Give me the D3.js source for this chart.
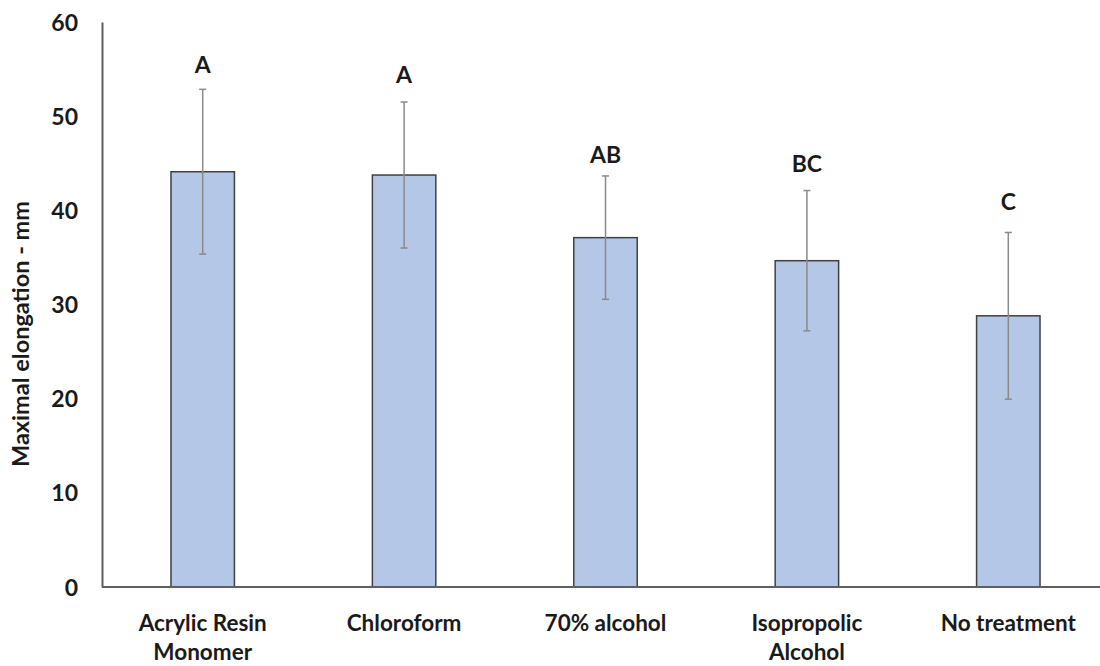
<!DOCTYPE html>
<html>
<head>
<meta charset="utf-8">
<script src="https://cdn.jsdelivr.net/npm/d3@7"></script>
<style>
  html, body { margin: 0; padding: 0; background: #fff; }
  svg { display: block; }
  text { font-family: Lato, "Open Sans", sans-serif; font-weight: bold; fill: #1a1a1a; }
</style>
</head>
<body>
<svg id="chart" width="1100" height="666"></svg>
<script>
const categories = [["Acrylic Resin", "Monomer"], ["Chloroform"], ["70% alcohol"], ["Isopropolic", "Alcohol"], ["No treatment"]];
const categoryKeys = ["Acrylic Resin Monomer", "Chloroform", "70% alcohol", "Isopropolic Alcohol", "No treatment"];
const means = [44.1, 43.75, 37.1, 34.65, 28.8];
const errors = [8.75, 7.75, 6.55, 7.45, 8.85];
const groupLetters = ["A", "A", "AB", "BC", "C"];
const letterLevels = [54.6, 53.5, 45.0, 44.1, 40.0];
const yTicks = [0, 10, 20, 30, 40, 50, 60];

const svg = d3.select("#chart");
const x = d3.scaleBand().domain(categoryKeys).range([102, 1109]).paddingInner(0.685).paddingOuter(0.3425);
const y = d3.scaleLinear().domain([0, 60]).range([587, 22]);

// y axis
const yAxis = d3.axisLeft(y).tickValues(yTicks).tickSize(0).tickPadding(24);
const gy = svg.append("g").attr("transform", "translate(102,0)").call(yAxis);
gy.select(".domain").attr("stroke", "#5f5f5f").attr("stroke-width", 2);
gy.selectAll("text").attr("font-size", 23).attr("font-family", "Lato, sans-serif").attr("font-weight", "bold").attr("fill", "#1a1a1a").attr("dy", "0.35em");

// bars
svg.append("g").selectAll("rect").data(means).join("rect")
  .attr("x", (d, i) => x(categoryKeys[i]))
  .attr("width", x.bandwidth())
  .attr("y", d => y(d))
  .attr("height", d => y(0) - y(d))
  .attr("fill", "#b4c7e7")
  .attr("stroke", "#404040")
  .attr("stroke-width", 1.5);

// x axis line
svg.append("line").attr("x1", 102).attr("x2", 1100).attr("y1", y(0)).attr("y2", y(0))
  .attr("stroke", "#5f5f5f").attr("stroke-width", 2);

// error bars
const eg = svg.append("g").attr("stroke", "#8a8a8a").attr("stroke-width", 1.5);
means.forEach((m, i) => {
  const cx = x(categoryKeys[i]) + x.bandwidth() / 2;
  eg.append("line").attr("x1", cx).attr("x2", cx).attr("y1", y(m + errors[i])).attr("y2", y(m - errors[i]));
  eg.append("line").attr("x1", cx - 3.5).attr("x2", cx + 3.5).attr("y1", y(m + errors[i])).attr("y2", y(m + errors[i]));
  eg.append("line").attr("x1", cx - 3.5).attr("x2", cx + 3.5).attr("y1", y(m - errors[i])).attr("y2", y(m - errors[i]));
});

// group letters
svg.append("g").selectAll("text").data(groupLetters).join("text")
  .attr("x", (d, i) => x(categoryKeys[i]) + x.bandwidth() / 2)
  .attr("y", (d, i) => y(letterLevels[i]))
  .attr("text-anchor", "middle")
  .attr("font-size", 23)
  .text(d => d);

// category labels
const cl = svg.append("g");
categories.forEach((lines, i) => {
  const t = cl.append("text")
    .attr("x", x(categoryKeys[i]) + x.bandwidth() / 2)
    .attr("y", 631)
    .attr("text-anchor", "middle")
    .attr("font-size", 22.5);
  lines.forEach((ln, j) => {
    t.append("tspan").attr("x", x(categoryKeys[i]) + x.bandwidth() / 2).attr("dy", j === 0 ? 0 : 29).text(ln);
  });
});

// y axis title
svg.append("text")
  .attr("transform", "translate(29,334) rotate(-90)")
  .attr("text-anchor", "middle")
  .attr("font-size", 23.5)
  .text("Maximal elongation - mm");
</script>
</body>
</html>
